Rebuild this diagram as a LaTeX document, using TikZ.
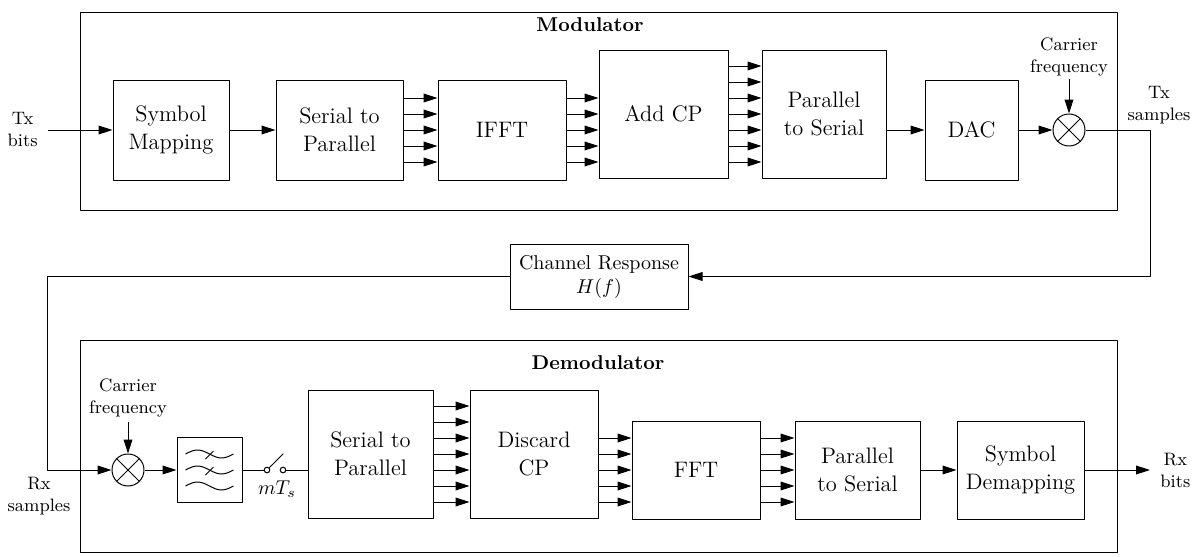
\documentclass[tikz,border=0pt]{standalone}
\usepackage{amsmath}
\usetikzlibrary{arrows.meta, calc, positioning}
\tikzset{
  blk/.style   = {draw, line width=0.5pt, align=center, inner sep=2pt,
                  font=\fontsize{11.2}{14}\selectfont},
  lbl/.style   = {align=center, font=\small, inner sep=1pt},
  ttl/.style   = {font=\bfseries, inner sep=1pt},
  mixer/.style = {circle, draw, line width=0.5pt, minimum size=16pt,
                  inner sep=0pt},
  tap/.style   = {circle, draw, line width=0.5pt, minimum size=2.8pt,
                  inner sep=0pt},
  stage/.style = {draw, line width=0.5pt},
  wire/.style  = {line width=0.5pt},
  sig/.style   = {wire, -{Triangle[length=7pt, width=4.4pt]}},
}

\begin{document}
\begin{tikzpicture}[x={(0.5pt,0)}, y={(0,-0.5pt)}, line join=round]
  \useasboundingbox (0,0) rectangle (1196,557);
  \draw[stage] (80,12) rectangle (1117,210);
  \draw[stage] (80,340) rectangle (1117,552);
  \node[ttl] (modttl) at (590,25) {Modulator};
  \node[ttl] (demodttl) at (598,363) {Demodulator};

  % transmitter
  \node[blk, minimum width=58pt, minimum height=50pt] (smap) at (171,130) {Symbol\\Mapping};
  \node[blk, minimum width=63.5pt, minimum height=50pt] (s2p) at (339.5,130) {Serial to\\Parallel};
  \node[blk, minimum width=64pt, minimum height=50pt] (ifft) at (502,130) {IFFT};
  \node[blk, minimum width=64.5pt, minimum height=64pt] (addcp) at (663.5,114) {Add CP};
  \node[blk, minimum width=62pt, minimum height=64pt] (p2s) at (824,114) {Parallel\\to Serial};
  \node[blk, minimum width=46.5pt, minimum height=50pt] (dac) at (971.5,130) {DAC};
  \node[mixer] (mixt) at (1069,130) {};
  \draw[wire] (mixt.45) -- (mixt.225) (mixt.135) -- (mixt.315);
  \node[lbl] (cft) at (1069,57) {Carrier\\frequency};
  \coordinate (txin) at (48,130);
  \node[lbl, left=4pt of txin] (txbits) {Tx\\bits};
  \coordinate (txturn) at (1150,130);
  \node[lbl] (txsmp) at (1159,105) {Tx\\samples};

  \draw[sig] (txin) -- (smap);
  \draw[sig] (smap) -- (s2p);
  \foreach \y in {98,114,...,162}{\draw[sig] (s2p.east |- 0,\y) -- (ifft.west |- 0,\y);}
  \foreach \y in {98,114,...,162}{\draw[sig] (ifft.east |- 0,\y) -- (addcp.west |- 0,\y);}
  \foreach \y in {66,82,...,162}{\draw[sig] (addcp.east |- 0,\y) -- (p2s.west |- 0,\y);}
  \draw[sig] (p2s.east |- dac) -- (dac);
  \draw[sig] (dac) -- (mixt);
  \draw[sig] (cft) -- (mixt);

  % receiver
  \node[mixer] (mixb) at (128,470) {};
  \draw[wire] (mixb.45) -- (mixb.225) (mixb.135) -- (mixb.315);
  \node[lbl, inner sep=2pt] (cfb) at (128,398) {Carrier\\frequency};
  \node[lbl] (rxsmp) at (39,496) {Rx\\samples};
  \node[blk, minimum width=32.5pt, minimum height=32.5pt] (lpf) at (209.5,470) {};
  \foreach \dy in {-16,0,16}{\draw[wire] ([shift={(-24,\dy)}]lpf.center) sin ++(12,-4) cos ++(12,4) sin ++(12,4) cos ++(12,-4);}
  \draw[wire] ([shift={(-4,-11)}]lpf.center) -- ++(8,-8);
  \draw[wire] ([shift={(-4,5)}]lpf.center) -- ++(8,-8);
  \node[tap] (tapa) at (267,470) {};
  \node[tap] (tapb) at (283,470) {};
  \draw[wire] (tapa.45) -- ++(14,-14);
  \node[font=\normalsize, inner sep=1pt] (mts) at (277,489) {$mT_s$};
  \node[blk, minimum width=62.5pt, minimum height=64pt] (s2pb) at (370.5,454) {Serial to\\Parallel};
  \node[blk, minimum width=64pt, minimum height=64pt] (dcp) at (534,454) {Discard\\CP};
  \node[blk, minimum width=64pt, minimum height=49pt] (fft) at (696,470) {FFT};
  \node[blk, minimum width=62.5pt, minimum height=49pt] (p2sb) at (857.5,470) {Parallel\\to Serial};
  \node[blk, minimum width=63.5pt, minimum height=49pt] (sdm) at (1020.5,470) {Symbol\\Demapping};
  \coordinate (rxout) at (1150,470);
  \node[lbl, right=4pt of rxout] (rxbits) {Rx\\bits};

  % channel
  \node[blk, font=\normalsize, minimum width=89pt, minimum height=32.5pt] (chan) at (599,276.5)
    {Channel Response\\$H(f)$};
  \coordinate (rxturn) at (47,470);
  \draw[sig] (mixt) -- (txturn) |- (chan);
  \draw[sig] (chan) -| (rxturn) -- (mixb);

  \draw[sig] (cfb) -- (mixb);
  \draw[sig] (mixb) -- (lpf);
  \draw[wire] (lpf) -- (tapa);
  \draw[wire] (tapb) -- (tapb -| s2pb.west);
  \foreach \y in {406,422,...,502}{\draw[sig] (s2pb.east |- 0,\y) -- (dcp.west |- 0,\y);}
  \foreach \y in {438,454,...,502}{\draw[sig] (dcp.east |- 0,\y) -- (fft.west |- 0,\y);}
  \foreach \y in {438,454,...,502}{\draw[sig] (fft.east |- 0,\y) -- (p2sb.west |- 0,\y);}
  \draw[sig] (p2sb) -- (sdm);
  \draw[sig] (sdm) -- (rxout);
\end{tikzpicture}
\end{document}
